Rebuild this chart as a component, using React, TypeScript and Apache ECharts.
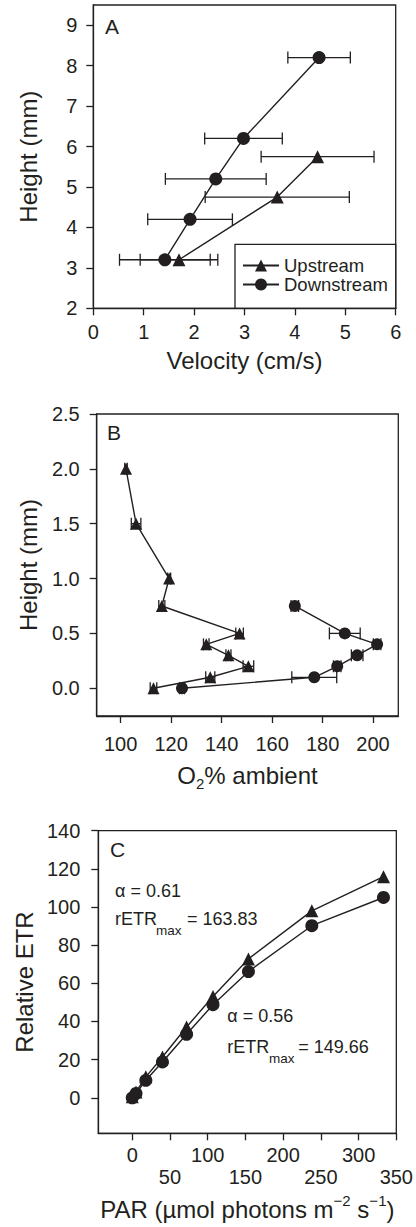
import React, { useEffect, useRef } from "react";
import * as echarts from "echarts";

// ---------- Panel A: velocity profiles ----------
const velHeightUp = [5.75, 4.75, 3.2];
const velUp = [4.45, 3.65, 1.7];
const velUpErr = [1.12, 1.43, 0.77];
const velHeightDown = [8.2, 6.2, 5.2, 4.2, 3.2];
const velDown = [4.48, 2.98, 2.43, 1.92, 1.42];
const velDownErr = [0.62, 0.77, 1.0, 0.84, 0.9];
const velTicks = [0, 1, 2, 3, 4, 5, 6];
const heightTicksA = [2, 3, 4, 5, 6, 7, 8, 9];

// ---------- Panel B: O2 profiles ----------
const o2HeightUp = [2.0, 1.5, 1.0, 0.75, 0.5, 0.4, 0.3, 0.2, 0.1, 0.0];
const o2Up = [102.1, 106.1, 119.2, 116.3, 147.1, 133.9, 142.7, 150.6, 135.5, 113.0];
const o2UpErr = [0.5, 1.9, 0.6, 1.2, 1.5, 1.1, 1.0, 2.1, 1.8, 1.3];
const o2HeightDown = [0.75, 0.5, 0.4, 0.3, 0.2, 0.1, 0.0];
const o2Down = [169.0, 188.8, 201.6, 193.7, 185.8, 176.7, 124.3];
const o2DownErr = [1.5, 6.1, 1.5, 2.3, 1.5, 8.9, 1.0];
const o2Ticks = [100, 120, 140, 160, 180, 200];
const heightTicksB = [0, 0.5, 1.0, 1.5, 2.0, 2.5];

// ---------- Panel C: light curves ----------
const par = [0, 5, 18, 40, 72, 107, 154, 238, 333];
const etrUp = [0.5, 3.1, 11.0, 21.4, 37.1, 53.1, 72.8, 98.0, 115.9];
const etrDown = [0.0, 2.3, 9.2, 18.8, 33.3, 48.8, 66.2, 90.2, 105.0];
const parTicks = [0, 50, 100, 150, 200, 250, 300, 350];
const etrTicks = [0, 20, 40, 60, 80, 100, 120, 140];

const INK = "#231f20";
const FONT = "'Liberation Sans', Arial, Helvetica, sans-serif";

function zip2(xs: number[], ys: number[]) {
  return xs.map((x, i) => [x, ys[i]]);
}
function zip3(xs: number[], ys: number[], es: number[]) {
  return xs.map((x, i) => [x, ys[i], es[i]]);
}

function errSeries(idx: number, name: string, data: number[][]) {
  return {
    type: "custom",
    name,
    xAxisIndex: idx,
    yAxisIndex: idx,
    silent: true,
    z: 1,
    data,
    encode: { x: 0, y: 1 },
    renderItem: (_p: any, api: any) => {
      const x = api.value(0);
      const y = api.value(1);
      const e = api.value(2);
      const a = api.coord([x - e, y]);
      const b = api.coord([x + e, y]);
      const h = 6;
      const st = { stroke: INK, lineWidth: 1.3 };
      return {
        type: "group",
        children: [
          { type: "line", shape: { x1: a[0], y1: a[1], x2: b[0], y2: b[1] }, style: st },
          { type: "line", shape: { x1: a[0], y1: a[1] - h, x2: a[0], y2: a[1] + h }, style: st },
          { type: "line", shape: { x1: b[0], y1: b[1] - h, x2: b[0], y2: b[1] + h }, style: st },
        ],
      };
    },
  };
}

function lineSeries(idx: number, name: string, symbol: string, size: number, data: number[][]) {
  return {
    type: "line",
    name,
    xAxisIndex: idx,
    yAxisIndex: idx,
    data,
    symbol,
    symbolSize: size,
    showAllSymbol: true,
    z: 3,
    color: INK,
    lineStyle: { color: INK, width: 1.4 },
    itemStyle: { color: INK, borderWidth: 0 },
  };
}

const axisCommon = {
  axisLine: { show: true, onZero: false, lineStyle: { color: INK, width: 1.3 } },
  axisTick: { show: true, length: 7, lineStyle: { color: INK, width: 1.3 } },
  splitLine: { show: false },
  nameLocation: "middle",
  nameTextStyle: { color: INK, fontSize: 24, fontFamily: FONT },
};

export default function App() {
  const ref = useRef<HTMLDivElement>(null);
  useEffect(() => {
    if (!ref.current) return;
    const chart = echarts.init(ref.current, undefined, { renderer: "svg" });
    const option: any = {
      animation: false,
      backgroundColor: "#ffffff",
      textStyle: { fontFamily: FONT, color: INK },
      grid: [
        { left: 93.3, width: 302.4, top: 5, height: 303.3, show: true, borderColor: INK, borderWidth: 1.3 },
        { left: 96.7, width: 301.6, top: 414, height: 302, show: true, borderColor: INK, borderWidth: 1.3 },
        { left: 98.3, width: 302.7, top: 830.7, height: 302.6, show: true, borderColor: INK, borderWidth: 1.3 },
      ],
      xAxis: [
        {
          ...axisCommon,
          type: "value",
          gridIndex: 0,
          min: 0,
          max: 6,
          name: "Velocity (cm/s)",
          nameGap: 40,
          axisTick: { ...axisCommon.axisTick, customValues: velTicks },
          axisLabel: { customValues: velTicks, color: INK, fontSize: 20, margin: 14 },
        },
        {
          ...axisCommon,
          type: "value",
          gridIndex: 1,
          min: 90.5,
          max: 210,
          name: "O{sub|2}% ambient",
          nameGap: 43,
          nameTextStyle: {
            ...axisCommon.nameTextStyle,
            lineHeight: 32,
            rich: { sub: { fontSize: 15, lineHeight: 15, verticalAlign: "bottom", color: INK, fontFamily: FONT } },
          },
          axisTick: { ...axisCommon.axisTick, customValues: o2Ticks },
          axisLabel: { customValues: o2Ticks, color: INK, fontSize: 20, margin: 18 },
        },
        {
          ...axisCommon,
          type: "value",
          gridIndex: 2,
          min: -45,
          max: 350,
          name: "PAR (µmol photons m{sup|−2} s{sup|−1})",
          nameGap: 60,
          nameTextStyle: {
            ...axisCommon.nameTextStyle,
            lineHeight: 32,
            rich: { sup: { fontSize: 15, lineHeight: 15, verticalAlign: "top", color: INK, fontFamily: FONT } },
          },
          axisTick: { ...axisCommon.axisTick, customValues: parTicks },
          axisLabel: {
            customValues: parTicks,
            color: INK,
            fontSize: 20,
            lineHeight: 22,
            margin: 11,
            formatter: (v: number) => (Math.round(v) % 100 === 0 ? String(v) : "\n" + v),
          },
        },
      ],
      yAxis: [
        {
          ...axisCommon,
          type: "value",
          gridIndex: 0,
          min: 2,
          max: 9.5,
          name: "Height (mm)",
          nameGap: 53,
          axisTick: { ...axisCommon.axisTick, customValues: heightTicksA },
          axisLabel: { customValues: heightTicksA, color: INK, fontSize: 20, margin: 16 },
        },
        {
          ...axisCommon,
          type: "value",
          gridIndex: 1,
          min: -0.253,
          max: 2.5,
          name: "Height (mm)",
          nameGap: 56,
          axisTick: { ...axisCommon.axisTick, customValues: heightTicksB },
          axisLabel: {
            customValues: heightTicksB,
            color: INK,
            fontSize: 20,
            margin: 17,
            formatter: (v: number) => v.toFixed(1),
          },
        },
        {
          ...axisCommon,
          type: "value",
          gridIndex: 2,
          min: -18.6,
          max: 140,
          name: "Relative ETR",
          nameGap: 58,
          axisTick: { ...axisCommon.axisTick, customValues: etrTicks },
          axisLabel: { customValues: etrTicks, color: INK, fontSize: 20, margin: 18 },
        },
      ],
      legend: {
        data: ["Upstream", "Downstream"],
        orient: "vertical",
        left: 242,
        top: 256,
        padding: 0,
        itemGap: 0,
        itemWidth: 36,
        itemHeight: 15,
        textStyle: { color: INK, fontSize: 18.5, lineHeight: 19, fontFamily: FONT },
        selectedMode: false,
      },
      graphic: [
        { type: "rect", shape: { x: 235, y: 244.3, width: 160.7, height: 64 }, style: { fill: "#fff", stroke: INK, lineWidth: 1.3 }, z: 0 },
        { type: "text", x: 105, y: 26.5, style: { text: "A", fontSize: 21, fill: INK, fontFamily: FONT, verticalAlign: "middle", align: "left" } },
        { type: "text", x: 107, y: 432.5, style: { text: "B", fontSize: 21, fill: INK, fontFamily: FONT, verticalAlign: "middle", align: "left" } },
        { type: "text", x: 110, y: 849, style: { text: "C", fontSize: 21, fill: INK, fontFamily: FONT, verticalAlign: "middle", align: "left" } },
        { type: "text", x: 115, y: 890.7, style: { text: "α = 0.61", fontSize: 18, fill: INK, fontFamily: FONT, verticalAlign: "middle", align: "left" } },
        { type: "text", x: 115, y: 918.8, style: { text: "rETR", fontSize: 18, fill: INK, fontFamily: FONT, verticalAlign: "middle", align: "left" } },
        { type: "text", x: 156, y: 930.5, style: { text: "max", fontSize: 13.5, fill: INK, fontFamily: FONT, verticalAlign: "middle", align: "left" } },
        { type: "text", x: 187, y: 918.8, style: { text: "= 163.83", fontSize: 18, fill: INK, fontFamily: FONT, verticalAlign: "middle", align: "left" } },
        { type: "text", x: 227.3, y: 1015.8, style: { text: "α = 0.56", fontSize: 18, fill: INK, fontFamily: FONT, verticalAlign: "middle", align: "left" } },
        { type: "text", x: 227.3, y: 1046.7, style: { text: "rETR", fontSize: 18, fill: INK, fontFamily: FONT, verticalAlign: "middle", align: "left" } },
        { type: "text", x: 269, y: 1058, style: { text: "max", fontSize: 13.5, fill: INK, fontFamily: FONT, verticalAlign: "middle", align: "left" } },
        { type: "text", x: 298.3, y: 1046.7, style: { text: "= 149.66", fontSize: 18, fill: INK, fontFamily: FONT, verticalAlign: "middle", align: "left" } },
      ],
      series: [
        errSeries(0, "Upstream SE", zip3(velUp, velHeightUp, velUpErr)),
        errSeries(0, "Downstream SE", zip3(velDown, velHeightDown, velDownErr)),
        lineSeries(0, "Upstream", "triangle", 13, zip2(velUp, velHeightUp)),
        lineSeries(0, "Downstream", "circle", 13, zip2(velDown, velHeightDown)),
        errSeries(1, "Upstream O2 SE", zip3(o2Up, o2HeightUp, o2UpErr)),
        errSeries(1, "Downstream O2 SE", zip3(o2Down, o2HeightDown, o2DownErr)),
        lineSeries(1, "Upstream", "triangle", 12, zip2(o2Up, o2HeightUp)),
        lineSeries(1, "Downstream", "circle", 12, zip2(o2Down, o2HeightDown)),
        lineSeries(2, "Upstream", "triangle", 13, zip2(par, etrUp)),
        lineSeries(2, "Downstream", "circle", 13, zip2(par, etrDown)),
      ],
    };
    chart.setOption(option);
    return () => chart.dispose();
  }, []);
  return (
    <div
      ref={ref}
      style={{ position: "absolute", left: 0, top: 0, width: 416, height: 1227, background: "#fff" }}
    />
  );
}
